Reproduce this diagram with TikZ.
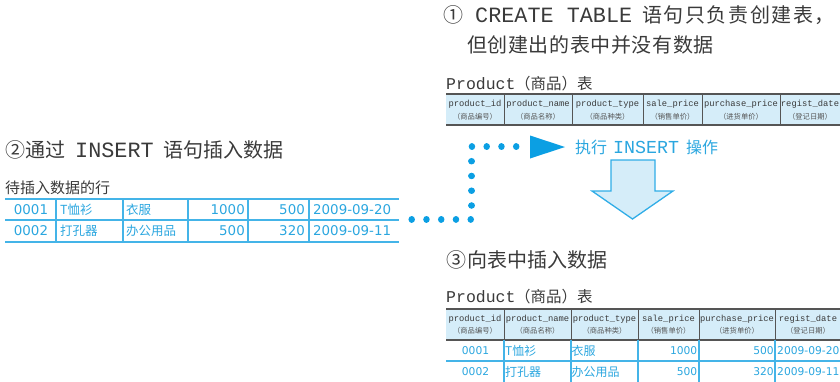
\documentclass[tikz,border=0pt]{standalone}
\usepackage{fontspec}
\setmainfont{Noto Sans CJK SC}
\setmonofont{Liberation Mono}
\newfontfamily\dvs{DejaVu Sans}
\definecolor{textgray}{HTML}{3A3A3A}
\definecolor{subgray}{HTML}{555555}
\definecolor{hdrline}{HTML}{555555}
\definecolor{hdrfill}{HTML}{D5EDF9}
\definecolor{blueline}{HTML}{44B4E8}
\definecolor{bluetext}{HTML}{2AA6DF}
\definecolor{dotblue}{HTML}{0B9FE3}
\tikzset{
  txt/.style={inner sep=0pt, anchor=west, text=textgray},
  big/.style={txt, font=\fontsize{20}{24}\selectfont},
  bigtt/.style={txt, font=\fontsize{21.8}{24}\ttfamily},
  ttl/.style={txt, font=\fontsize{16.5}{20}\ttfamily},
  ttlc/.style={txt, font=\fontsize{15.5}{20}\selectfont},
  hd/.style={inner sep=0pt, text=textgray, font=\fontsize{8.8}{10}\ttfamily},
  hs/.style={inner sep=0pt, text=subgray, font=\fontsize{7.3}{8}\selectfont},
  lnum/.style={inner sep=0pt, text=bluetext, font=\fontsize{13.4}{15}\dvs},
  lcjk/.style={inner sep=0pt, anchor=west, text=bluetext, font=\fontsize{12.5}{15}\selectfont},
  bnum/.style={inner sep=0pt, text=bluetext, font=\fontsize{10.7}{13}\dvs},
  bcjk/.style={inner sep=0pt, anchor=west, text=bluetext, font=\fontsize{12}{14}\selectfont},
  hline/.style={draw=hdrline, line width=1.3pt},
  vline/.style={draw=hdrline, line width=1pt},
  bline/.style={draw=blueline, line width=1.1pt},
  dotline/.style={draw=dotblue, line width=6.5pt, line cap=round, dash pattern=on 0.01pt off 14.75pt},
  blockarrow/.style={fill=hdrfill, draw=dotblue!85, line width=1.3pt, line join=miter},
}
\begin{document}
\begin{tikzpicture}[x=1pt,y=-1pt]
\useasboundingbox (0,0) rectangle (840,381);

% ---------- heading 1 ----------
\node[big] (n1) at (443,15) {①};
\node[bigtt] (c1) at (475,15) {CREATE TABLE};
\node[big] (h1a) at (642,15) {\addfontfeature{LetterSpace=8}语句只负责创建表，};
\node[big] (h1b) at (467,45) {\addfontfeature{LetterSpace=3}但创建出的表中并没有数据};

% ---------- top table ----------
\node[ttl] (p1) at (446,84) {Product};
\node[ttlc] (p1c) at (515,84) {（商品）表};
\fill[hdrfill] (446,94) rectangle (840,125);
\draw[hline] (446,94) -- (840,94);
\draw[hline] (446,125) -- (840,125);
\foreach \x in {504,572,643,702,780} \draw[vline] (\x,94) -- (\x,125);
\foreach \c/\a/\b [count=\i] in {475/product\_id/商品编号, 538/product\_name/商品名称, 607.5/product\_type/商品种类, 672.5/sale\_price/销售单价, 741/purchase\_price/进货单价, 810/regist\_date/登记日期} {
  \node[hd] (th\i) at (\c,104) {\a};
  \node[hs] (ts\i) at (\c,117) {（\b）};
}

% ---------- arrow label ----------
\node[txt, text=bluetext, font=\fontsize{16}{20}\selectfont] (e1) at (575,147) {执行};
\node[txt, text=bluetext, font=\fontsize{18.3}{20}\ttfamily] (e2) at (613,147) {INSERT};
\node[txt, text=bluetext, font=\fontsize{16}{20}\selectfont] (e3) at (686,147) {操作};

% ---------- dotted connector ----------
\coordinate (d0) at (411.7,219.3);
\coordinate (d1) at (471.7,219.3);
\coordinate (d2) at (471.7,146.7);
\coordinate (d3) at (530,146.7);
\draw[dotline] (d0) -- (d1) -- (d2) -- (d3);
\coordinate (tip) at (565,147);
\fill[dotblue] (530,135.5) -- (tip) -- (530,158.5) -- cycle;

% ---------- block arrow ----------
\draw[blockarrow] (611,160) -- (655,160) -- (655,191) -- (673,191) -- (632.5,219) -- (592,191) -- (611,191) -- cycle;

% ---------- heading 2 ----------
\node[big] (n2) at (5,150) {②};
\node[big] (h2a) at (25,150) {通过};
\node[bigtt] (c2) at (75,150) {INSERT};
\node[big] (h2b) at (163,150) {语句插入数据};

% ---------- left table ----------
\node[txt, font=\fontsize{15}{18}\selectfont] (lt) at (5,188) {待插入数据的行};
\draw[draw=blueline, line width=2pt] (5,199) -- (399,199);
\draw[bline] (5,220) -- (399,220);
\draw[draw=blueline, line width=2pt] (5,242) -- (399,242);
\foreach \x in {56,123,188,248,309} \draw[bline] (\x,199) -- (\x,242);
\foreach \y/\id/\nm/\ty/\sp/\pp/\dt [count=\r] in {209.5/0001/T恤衫/衣服/1000/500/2009-09-20, 231/0002/打孔器/办公用品/500/320/2009-09-11} {
  \node[lnum] (la\r) at (31,\y) {\id};
  \node[lcjk] (lb\r) at (60,\y) {\nm};
  \node[lcjk] (lc\r) at (126,\y) {\ty};
  \node[lnum, anchor=east] (ld\r) at (245,\y) {\sp};
  \node[lnum, anchor=east] (le\r) at (305,\y) {\pp};
  \node[lnum, anchor=west] (lf\r) at (313,\y) {\dt};
}

% ---------- heading 3 ----------
\node[big] (n3) at (446,260) {③};
\node[big] (h3) at (467,260) {向表中插入数据};

% ---------- bottom table ----------
\node[ttl] (p2) at (446,297) {Product};
\node[ttlc] (p2c) at (515,297) {（商品）表};
\fill[hdrfill] (446,309) rectangle (840,340);
\draw[hline] (446,309) -- (840,309);
\draw[hline] (446,340) -- (840,340);
\foreach \x in {504,571,638,699,775} {
  \draw[vline] (\x,309) -- (\x,340);
  \draw[bline] (\x,340) -- (\x,382);
}
\draw[bline] (446,361) -- (840,361);
\foreach \c/\a/\b [count=\i] in {475/product\_id/商品编号, 537.5/product\_name/商品名称, 604.5/product\_type/商品种类, 668.5/sale\_price/销售单价, 737/purchase\_price/进货单价, 808/regist\_date/登记日期} {
  \node[hd] (bh\i) at (\c,319) {\a};
  \node[hs] (bs\i) at (\c,331) {（\b）};
}
\foreach \y/\id/\nm/\ty/\sp/\pp/\dt [count=\r] in {350.5/0001/T恤衫/衣服/1000/500/2009-09-20, 371.5/0002/打孔器/办公用品/500/320/2009-09-11} {
  \node[bnum] (ba\r) at (475.5,\y) {\id};
  \node[bcjk] (bb\r) at (505,\y) {\nm};
  \node[bcjk] (bc\r) at (571.5,\y) {\ty};
  \node[bnum, anchor=east] (bd\r) at (697.5,\y) {\sp};
  \node[bnum, anchor=east] (be\r) at (774,\y) {\pp};
  \node[bnum, anchor=west] (bf\r) at (777,\y) {\dt};
}
\end{tikzpicture}
\end{document}
